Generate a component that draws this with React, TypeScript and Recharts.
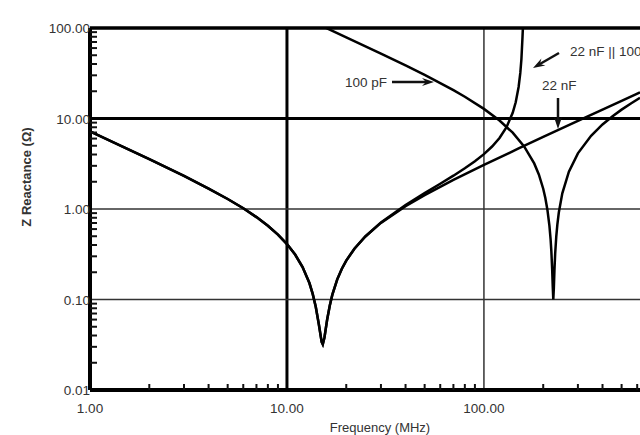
import { LineChart, Line, XAxis, YAxis, ReferenceLine } from "recharts";

// frequency in MHz, impedance in ohms
const freq22n = [1, 1.5, 2, 3, 4, 5, 6, 7, 8, 9, 10, 11, 12, 13, 13.5, 14, 14.5, 15, 15.2, 15.5, 16, 16.5, 17, 18, 19, 20, 22, 25, 30, 40, 50, 70, 100, 150, 200, 300, 400, 500, 620];
const z22n = [7.2, 4.78, 3.55, 2.32, 1.68, 1.29, 1.02, 0.814, 0.653, 0.521, 0.41, 0.314, 0.228, 0.152, 0.116, 0.083, 0.054, 0.034, 0.032, 0.038, 0.06, 0.086, 0.113, 0.167, 0.219, 0.269, 0.364, 0.497, 0.702, 1.076, 1.426, 2.096, 3.069, 4.664, 6.247, 9.4, 12.55, 15.69, 19.47];

const freq100p = [15, 20, 30, 40, 50, 60, 70, 80, 100, 120, 140, 160, 180, 190, 200, 205, 210, 215, 218, 220, 222, 223.5, 225, 226.5, 228, 230, 233, 236, 240, 250, 270, 300, 350, 400, 450, 500, 560, 620];
const z100p = [105.6, 78.95, 52.11, 38.53, 30.26, 24.64, 20.54, 17.38, 12.77, 9.49, 6.97, 4.92, 3.19, 2.41, 1.675, 1.324, 0.982, 0.656, 0.463, 0.338, 0.219, 0.141, 0.1, 0.134, 0.208, 0.322, 0.499, 0.678, 0.914, 1.49, 2.59, 4.12, 6.45, 8.59, 10.6, 12.53, 14.75, 16.91];

const freqPar = [1, 1.5, 2, 3, 4, 5, 6, 7, 8, 9, 10, 11, 12, 13, 13.5, 14, 14.5, 15, 15.2, 15.5, 16, 16.5, 17, 18, 19, 20, 22, 25, 30, 40, 50, 60, 70, 80, 90, 100, 110, 120, 130, 140, 145, 150, 153, 155, 157, 158];
const zPar = [7.2, 4.78, 3.55, 2.32, 1.68, 1.29, 1.02, 0.814, 0.653, 0.521, 0.41, 0.314, 0.228, 0.152, 0.116, 0.083, 0.054, 0.034, 0.032, 0.038, 0.06, 0.086, 0.113, 0.167, 0.219, 0.269, 0.364, 0.497, 0.711, 1.107, 1.497, 1.9, 2.334, 2.815, 3.37, 4.04, 4.9, 6.09, 7.96, 11.55, 15.1, 22.3, 31.9, 45.2, 79.7, 110];

const xTicks = [1, 2, 3, 4, 5, 6, 7, 8, 9, 10, 20, 30, 40, 50, 60, 70, 80, 90, 100, 200, 300, 400, 500, 600];
const xMajor = [1, 10, 100];
const yTicks = [0.01, 0.02, 0.03, 0.04, 0.05, 0.06, 0.07, 0.08, 0.09, 0.1, 0.2, 0.3, 0.4, 0.5, 0.6, 0.7, 0.8, 0.9, 1, 2, 3, 4, 5, 6, 7, 8, 9, 10, 20, 30, 40, 50, 60, 70, 80, 90, 100];
const yMajor = [0.01, 0.1, 1, 10, 100];

const FONT = "'Liberation Sans', Arial, sans-serif";
const TXT = "#333";

const pts = (fs: number[], zs: number[]) => fs.map((f, i) => ({ f, z: zs[i] }));

function XTick({ x, y, payload }: any) {
  const v = payload.value;
  const major = xMajor.includes(v);
  return (
    <g>
      {!major && <line x1={x} x2={x} y1={y} y2={y - 6} stroke="#111" strokeWidth={2} />}
      {major && (
        <text x={x} y={y + 23} textAnchor="middle" fontFamily={FONT} fontSize={13.5} fill={TXT}>
          {v.toFixed(2)}
        </text>
      )}
    </g>
  );
}

function YTick({ x, y, payload }: any) {
  const v = payload.value;
  const major = yMajor.includes(v);
  return (
    <g>
      {!major && <line x1={x} x2={x + 7} y1={y} y2={y} stroke="#111" strokeWidth={2} />}
      {major && (
        <text x={x} y={y + 5} textAnchor="end" fontFamily={FONT} fontSize={13.5} fill={TXT}>
          {v.toFixed(2)}
        </text>
      )}
    </g>
  );
}

function Arrow({ x1, y1, x2, y2 }: { x1: number; y1: number; x2: number; y2: number }) {
  const dx = x2 - x1, dy = y2 - y1;
  const len = Math.hypot(dx, dy);
  const ux = dx / len, uy = dy / len;
  const bx = x2 - ux * 12, by = y2 - uy * 12;
  const nx = -uy * 4, ny = ux * 4;
  return (
    <g>
      <line x1={x1} y1={y1} x2={bx + ux * 4} y2={by + uy * 4} stroke="#111" strokeWidth={2.5} />
      <polygon
        points={`${x2},${y2} ${bx + nx},${by + ny} ${bx + ux * 4},${by + uy * 4} ${bx - nx},${by - ny}`}
        fill="#111"
      />
    </g>
  );
}

export default function App() {
  return (
    <div style={{ position: "absolute", left: 0, top: 0, width: 640, height: 435, overflow: "hidden", background: "#fff" }}>
      <LineChart width={640} height={435} margin={{ top: 28, right: 0, left: 0, bottom: 0 }}>
        <XAxis
          dataKey="f"
          type="number"
          scale="log"
          domain={[1, 620]}
          allowDataOverflow
          ticks={xTicks}
          interval={0}
          tick={XTick}
          tickLine={false}
          tickSize={0}
          tickMargin={0}
          height={45}
          axisLine={{ stroke: "#000", strokeWidth: 4 }}
        />
        <YAxis
          dataKey="z"
          type="number"
          scale="log"
          domain={[0.01, 100]}
          allowDataOverflow
          ticks={yTicks}
          interval={0}
          tick={YTick}
          tickLine={false}
          tickSize={0}
          tickMargin={0}
          width={90}
          axisLine={{ stroke: "#000", strokeWidth: 4 }}
        />
        <ReferenceLine x={10} stroke="#000" strokeWidth={3} />
        <ReferenceLine x={100} stroke="#333" strokeWidth={1.5} />
        <ReferenceLine y={100} stroke="#000" strokeWidth={3.5} />
        <ReferenceLine y={10} stroke="#000" strokeWidth={3} />
        <ReferenceLine y={1} stroke="#333" strokeWidth={1.5} />
        <ReferenceLine y={0.1} stroke="#333" strokeWidth={1.5} />
        <Line data={pts(freq22n, z22n)} dataKey="z" name="22 nF" stroke="#000" strokeWidth={2.5} dot={false} isAnimationActive={false} />
        <Line data={pts(freq100p, z100p)} dataKey="z" name="100 pF" stroke="#000" strokeWidth={2.5} dot={false} isAnimationActive={false} />
        <Line data={pts(freqPar, zPar)} dataKey="z" name="22 nF || 100 pF" stroke="#000" strokeWidth={2.5} dot={false} isAnimationActive={false} />
      </LineChart>
      <svg width={640} height={435} style={{ position: "absolute", left: 0, top: 0, pointerEvents: "none" }}>
        <text x={380} y={432} textAnchor="middle" fontFamily={FONT} fontSize={13} fill={TXT}>
          Frequency (MHz)
        </text>
        <text
          x={0}
          y={0}
          transform="translate(31,177) rotate(-90)"
          textAnchor="middle"
          fontFamily={FONT}
          fontSize={13}
          fontWeight="bold"
          fill={TXT}
        >
          Z Reactance (Ω)
        </text>
        <text x={345} y={87} fontFamily={FONT} fontSize={13.5} fill={TXT}>100 pF</text>
        <Arrow x1={392} y1={82} x2={434} y2={82} />
        <text x={570} y={56} fontFamily={FONT} fontSize={13.5} fill={TXT}>22 nF || 100 pF</text>
        <Arrow x1={559} y1={53} x2={533} y2={68} />
        <text x={542} y={90} fontFamily={FONT} fontSize={13.5} fill={TXT}>22 nF</text>
        <Arrow x1={558} y1={98} x2={558} y2={129} />
      </svg>
    </div>
  );
}
